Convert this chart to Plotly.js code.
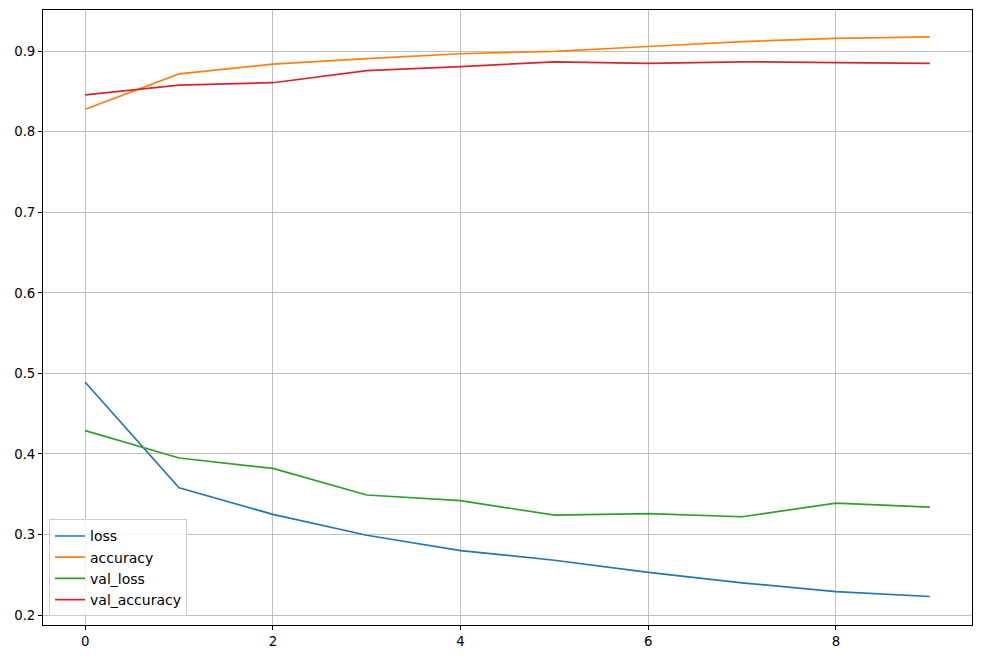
<!DOCTYPE html>
<html>
<head>
<meta charset="utf-8">
<script src="https://cdn.plot.ly/plotly-3.0.1.min.js"></script>
<style>html,body{margin:0;padding:0;background:#fff;}#chart{width:981px;height:659px;}</style>
</head>
<body>
<div id="chart"></div>
<script>
const epochs = [0, 1, 2, 3, 4, 5, 6, 7, 8, 9];
const loss = [0.489, 0.358, 0.325, 0.299, 0.280, 0.268, 0.253, 0.240, 0.229, 0.223];
const accuracy = [0.828, 0.872, 0.884, 0.891, 0.897, 0.900, 0.906, 0.912, 0.916, 0.918];
const valLoss = [0.429, 0.395, 0.382, 0.349, 0.342, 0.324, 0.326, 0.322, 0.339, 0.334];
const valAccuracy = [0.846, 0.858, 0.861, 0.876, 0.881, 0.887, 0.885, 0.887, 0.886, 0.885];
const seriesNames = ["loss", "accuracy", "val_loss", "val_accuracy"];
const seriesColors = ["#1f77b4", "#ff7f0e", "#2ca02c", "#d62728"];
const seriesValues = [loss, accuracy, valLoss, valAccuracy];

const traces = seriesValues.map((vals, i) => ({
  x: epochs, y: vals, type: "scatter", mode: "lines", name: seriesNames[i],
  line: {color: seriesColors[i], width: 1.7}
}));

const axisCommon = {
  showline: true, mirror: true, linecolor: "#000", linewidth: 1,
  ticks: "outside", ticklen: 4, tickcolor: "#000", tickwidth: 1,
  showgrid: true, gridcolor: "#b0b0b0", gridwidth: 0.8, zeroline: false,
  tickfont: {family: "DejaVu Sans", size: 13.3, color: "#000"}
};

const layout = {
  width: 981, height: 659,
  margin: {l: 43, r: 9, t: 10, b: 34},
  paper_bgcolor: "#fff", plot_bgcolor: "#fff",
  font: {family: "DejaVu Sans", size: 13.3, color: "#000"},
  xaxis: Object.assign({}, axisCommon, {range: [-0.45, 9.45], tickvals: [0, 2, 4, 6, 8]}),
  yaxis: Object.assign({}, axisCommon, {range: [0.1876, 0.9513], tickvals: [0.2, 0.3, 0.4, 0.5, 0.6, 0.7, 0.8, 0.9], tickformat: ".1f"}),
  showlegend: true,
  legend: {
    x: 0.0065, y: 0.014, xanchor: "left", yanchor: "bottom",
    bgcolor: "rgba(255,255,255,0.8)", bordercolor: "#cccccc", borderwidth: 1,
    font: {family: "DejaVu Sans", size: 14, color: "#000"},
    itemwidth: 30
  }
};

Plotly.newPlot("chart", traces, layout, {displayModeBar: false, staticPlot: true});
</script>
</body>
</html>
